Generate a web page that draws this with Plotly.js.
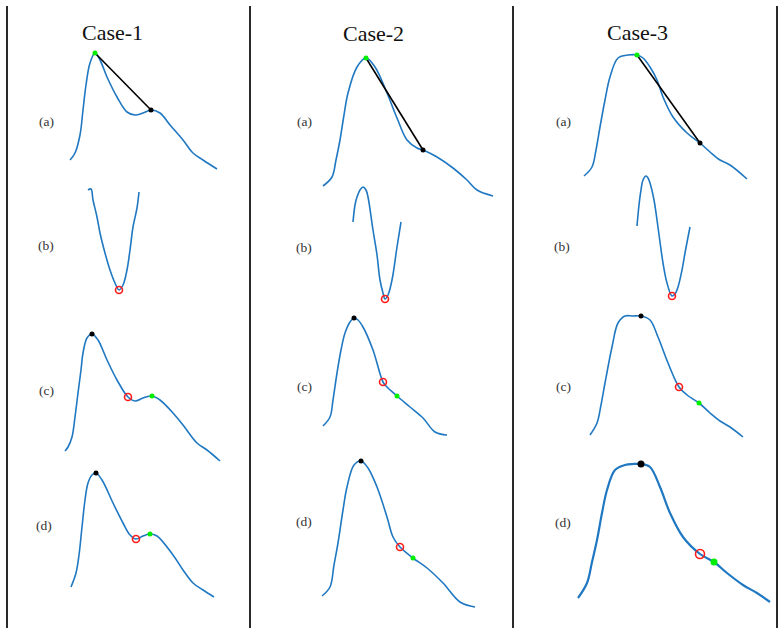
<!DOCTYPE html>
<html><head><meta charset="utf-8">
<script src="https://cdn.plot.ly/plotly-3.0.1.min.js"></script>
<style>html,body{margin:0;padding:0;background:#fff}#chart{width:782px;height:635px}</style>
</head><body><div id="chart"></div>
<script>
// ---- texts ----
const caseTitles = ['Case-1', 'Case-2', 'Case-3'];
const rowLabels = ['(a)', '(b)', '(c)', '(d)'];

// ---- curves (local time / amplitude units) ----
// Case-1
const c1aT = [15,20,25,28,31,35,40,45,52,62,72,80,88,96,105,115,128,138,148,162];
const c1aV = [40,47,65,90,115,137,147,140,123,103,88,85,87,90,87,75,60,47,40,31];
const c1bT = [33,36,38,42,45,50,55,60,64,68,72,75,78,82,84];
const c1bV = [145,146,135,118,102,82,65,52,45,50,65,85,108,127,143];
const c1cT = [10,13,17,20,23,26,28,32,37,43,52,62,73,80,88,97,105,118,128,142,152,165];
const c1cV = [14,18,28,48,72,95,112,127,131,125,105,85,68,64,67,69,65,52,40,22,15,4];
const c1dT = [16,21,24,27,30,33,37,41,47,58,68,75,81,88,95,102,118,128,138,148,159];
const c1dV = [23,37,55,83,110,127,135,137,130,107,87,75,71,74,76,74,55,40,27,20,13];
// Case-2
const c2aT = [8,17,21,25,29,33,42,51,60,72,82,92,102,108,122,138,152,162,178];
const c2aV = [14,23,40,60,85,107,133,142,133,107,82,60,52,50,43,32,20,10,4];
const c2bT = [38,40,42,45,48,51,53,58,62,65,68,70,73,77,82,86];
const c2bV = [113,130,138,145,148,145,138,105,80,55,42,36,40,55,88,113];
const c2cT = [8,15,18,22,26,30,35,39,43,48,58,68,72,82,95,108,120,132];
const c2cV = [39,48,65,92,115,132,143,147,145,138,115,83,78,69,58,47,33,30];
const c2dT = [7,15,19,23,28,32,39,46,53,62,72,78,85,98,112,128,145,160];
const c2dV = [14,23,45,67,100,123,145,149,142,123,93,73,63,52,42,27,8,3];
// Case-3
const c3aT = [14,22,26,30,35,40,48,58,67,73,80,87,93,103,117,130,140,150,160,177];
const c3aV = [24,33,50,73,100,123,142,145,145,142,133,120,103,83,67,57,48,40,35,21];
const c3bT = [67,69,71,73,76,78,80,84,87,90,93,97,102,105,108,112,115,120];
const c3bV = [109,130,145,155,159,157,152,135,115,93,72,52,39,41,48,65,82,108];
const c3cT = [20,27,31,35,42,48,55,63,71,80,88,98,109,117,129,140,150,160,173];
const c3cV = [30,42,60,82,118,142,149,149,149,145,128,102,78,70,62,52,44,38,28];
const c3dT = [8,17,22,27,32,37,45,55,63,71,80,90,100,113,130,144,157,173,187,200];
const c3dV = [12,27,48,70,97,120,140,145,146,146,143,123,97,73,56,48,37,25,17,8];

// ---- marked sample indices: [green, black, red] (-1 = none) ----
const marks1 = [[6,13,-1],[-1,-1,8],[15,8,12],[14,7,12]];
const marks2 = [[7,13,-1],[-1,-1,11],[13,7,11],[13,7,12]];
const marks3 = [[8,15,-1],[-1,-1,12],[14,8,12],[15,9,14]];

const curves = [
  [[c1aT,c1aV],[c1bT,c1bV],[c1cT,c1cV],[c1dT,c1dV]],
  [[c2aT,c2aV],[c2bT,c2bV],[c2cT,c2cV],[c2dT,c2dV]],
  [[c3aT,c3aV],[c3bT,c3bV],[c3cT,c3cV],[c3dT,c3dV]]
];
const marks = [marks1, marks2, marks3];

// ---- layout geometry (pixels) ----
const FW = 782, FH = 635;
const colLeft = [55, 315, 570], PW = 210;
const rowTop = [40, 175, 305, 450], PH = 160;
const titlePos = [[113,32],[373,33],[637,32]];
const labelPos = [
  [[46,121],[46,245],[46,390],[44,525]],
  [[304,121],[304,247],[304,386],[304,521]],
  [[563,121],[562,246],[563,386],[563,522]]
];
const sepX = [7, 250, 513, 777];

const BLUE = '#1f78c1';
const traces = [];
const layout = {
  width: FW, height: FH, margin: {l:0,r:0,t:0,b:0},
  paper_bgcolor: '#fff', plot_bgcolor: 'rgba(0,0,0,0)',
  showlegend: false, annotations: [], shapes: []
};

let k = 0;
for (let c = 0; c < 3; c++) {
  for (let r = 0; r < 4; r++) {
    k++;
    const xa = 'x' + (k === 1 ? '' : k), ya = 'y' + (k === 1 ? '' : k);
    const xk = 'xaxis' + (k === 1 ? '' : k), yk = 'yaxis' + (k === 1 ? '' : k);
    const L = colLeft[c], T = rowTop[r];
    layout[xk] = {domain: [L/FW, (L+PW)/FW], range: [0, PW], visible: false, fixedrange: true};
    layout[yk] = {domain: [1-(T+PH)/FH, 1-T/FH], range: [0, PH], visible: false, fixedrange: true};
    const [t, v] = curves[c][r];
    const big = (c === 2 && r === 3);
    traces.push({x: t, y: v, xaxis: xa, yaxis: ya, mode: 'lines',
      line: {color: BLUE, width: big ? 2.2 : 1.6, shape: 'spline', smoothing: 1}, hoverinfo: 'skip'});
    const [g, b, rd] = marks[c][r];
    if (r === 0 && g >= 0 && b >= 0) {
      traces.push({x: [t[g], t[b]], y: [v[g], v[b]], xaxis: xa, yaxis: ya, mode: 'lines',
        line: {color: '#000', width: 1.6}, hoverinfo: 'skip'});
    }
    if (b >= 0) traces.push({x: [t[b]], y: [v[b]], xaxis: xa, yaxis: ya, mode: 'markers',
      marker: {color: '#000', size: big ? 7 : 5}, hoverinfo: 'skip'});
    if (g >= 0) traces.push({x: [t[g]], y: [v[g]], xaxis: xa, yaxis: ya, mode: 'markers',
      marker: {color: '#00ee00', size: big ? 7 : 5}, hoverinfo: 'skip'});
    if (rd >= 0) traces.push({x: [t[rd]], y: [v[rd]], xaxis: xa, yaxis: ya, mode: 'markers',
      marker: {symbol: 'circle-open', color: '#ff1a1a', size: big ? 9 : 7, line: {width: 1.6, color: '#ff1a1a'}}, hoverinfo: 'skip'});
    const [lx, ly] = labelPos[c][r];
    layout.annotations.push({text: rowLabels[r], xref: 'paper', yref: 'paper',
      x: lx/FW, y: 1-ly/FH, xanchor: 'center', yanchor: 'middle', showarrow: false,
      font: {family: 'Liberation Serif, serif', size: 13.5, color: '#333'}});
  }
  const [tx, ty] = titlePos[c];
  layout.annotations.push({text: caseTitles[c], xref: 'paper', yref: 'paper',
    x: tx/FW, y: 1-ty/FH, xanchor: 'center', yanchor: 'middle', showarrow: false,
    font: {family: 'Liberation Serif, serif', size: 22, color: '#111'}});
}
sepX.forEach(x => layout.shapes.push({type: 'line', xref: 'paper', yref: 'paper',
  x0: x/FW, x1: x/FW, y0: 1-6/FH, y1: 1-628/FH, line: {color: '#2a2a2a', width: 2}}));

Plotly.newPlot('chart', traces, layout, {displayModeBar: false, staticPlot: true});
</script></body></html>
